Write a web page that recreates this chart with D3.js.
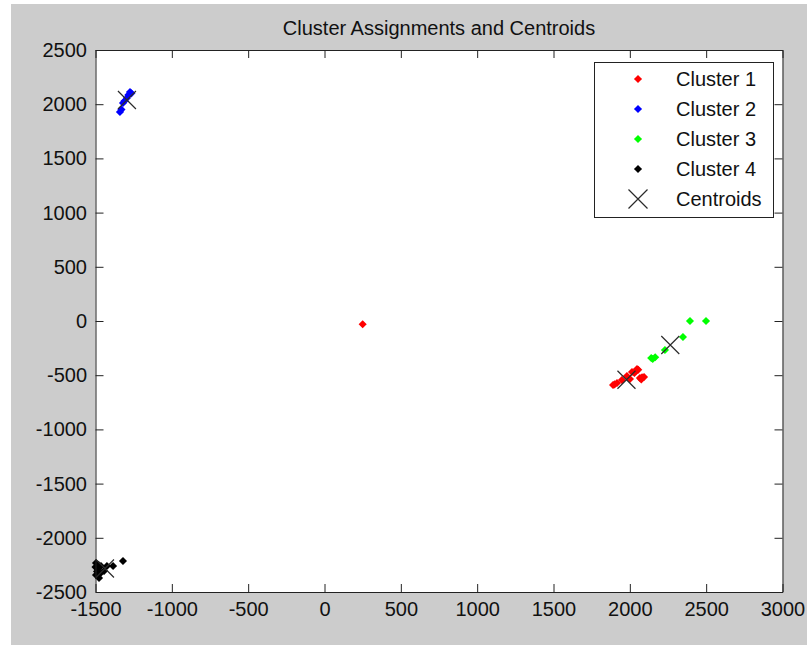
<!DOCTYPE html>
<html lang="en">

<head>
  <meta charset="UTF-8">
  <title>Cluster Assignments and Centroids</title>
  <script src="https://d3js.org/d3.v7.min.js"></script>
  <style>
    body {
      margin: 0;
      background: #fff;
    }

    text {
      font-family: 'Liberation Sans', Arial, sans-serif;
      fill: #111;
    }
  </style>
</head>

<body>
  <script>
    // data: [x, y] points for each cluster
    var cluster1 = [[250, -30], [1890, -590], [1900, -585], [1916, -572], [1948, -544], [1981, -507],
      [2001, -535], [2014, -470], [2030, -480], [2040, -460], [2047, -443], [2055, -450],
      [2066, -526], [2075, -540], [2080, -520], [2093, -517]];
    var cluster2 = [[-1340, 1928], [-1330, 1950], [-1320, 2011], [-1310, 2030], [-1294, 2057],
      [-1285, 2085], [-1274, 2113], [-1265, 2100]];
    var cluster3 = [[2394, 0], [2499, 0], [2348, -148], [2230, -267], [2140, -341], [2150, -350], [2166, -335]];
    var cluster4 = [[-1497, -2232], [-1480, -2250], [-1484, -2288], [-1500, -2270], [-1464, -2260],
      [-1497, -2343], [-1470, -2330], [-1477, -2371], [-1444, -2306], [-1425, -2260],
      [-1385, -2260], [-1320, -2214], [-1490, -2310]];
    var centroids = [[1978, -542], [-1294, 2039], [2265, -221], [-1438, -2283]];

    var clusterNames = ['Cluster 1', 'Cluster 2', 'Cluster 3', 'Cluster 4'];
    var clusterColors = ['#ff0000', '#0000ff', '#00ff00', '#000000'];
    var xTicks = [-1500, -1000, -500, 0, 500, 1000, 1500, 2000, 2500, 3000];
    var yTicks = [-2500, -2000, -1500, -1000, -500, 0, 500, 1000, 1500, 2000, 2500];

    var width = 807;
    var height = 645;
    var plot = { left: 95.5, right: 782.5, top: 50, bottom: 592 };
    var tickLen = 8;

    var svg = d3.select('body')
      .append('svg')
      .attr('width', width)
      .attr('height', height);

    // figure background
    svg.append('rect')
      .attr('x', 11)
      .attr('y', 4)
      .attr('width', width - 11)
      .attr('height', height - 4)
      .attr('fill', '#cccccc');

    var x = d3.scaleLinear().domain([-1500, 3000]).range([plot.left, plot.right]);
    var y = d3.scaleLinear().domain([-2500, 2500]).range([plot.bottom, plot.top]);

    svg.append('rect')
      .attr('x', plot.left)
      .attr('y', plot.top)
      .attr('width', plot.right - plot.left)
      .attr('height', plot.bottom - plot.top)
      .attr('fill', '#fff');

    // points
    var diamond = d3.symbol().type(d3.symbolDiamond2).size(42);
    var clusters = [cluster1, cluster2, cluster3, cluster4];
    clusters.forEach(function (pts, i) {
      svg.append('g')
        .selectAll('path')
        .data(pts)
        .enter()
        .append('path')
        .attr('d', diamond)
        .attr('transform', function (d) {
          return 'translate(' + x(d[0]) + ',' + y(d[1]) + ')';
        })
        .attr('fill', clusterColors[i]);
    });

    // centroid crosses
    function cross(g, r) {
      g.append('path')
        .attr('d', 'M' + (-r) + ',' + (-r) + 'L' + r + ',' + r + 'M' + (-r) + ',' + r + 'L' + r + ',' + (-r))
        .attr('stroke', '#2a2a2a')
        .attr('stroke-width', 1.2)
        .attr('fill', 'none');
    }
    svg.append('g')
      .selectAll('g')
      .data(centroids)
      .enter()
      .append('g')
      .attr('transform', function (d) {
        return 'translate(' + x(d[0]) + ',' + y(d[1]) + ')';
      })
      .each(function () { cross(d3.select(this), 9); });

    // axes, ticks pointing inward
    function styleAxis(g) {
      g.selectAll('path').attr('stroke', '#222');
      g.selectAll('line').attr('stroke', '#222');
      g.selectAll('text').attr('font-size', '20px').attr('fill', '#111');
      g.attr('font-family', null);
    }

    svg.append('g')
      .attr('transform', 'translate(0,' + plot.bottom + ')')
      .call(d3.axisBottom(x).tickValues(xTicks).tickSize(-tickLen).tickSizeOuter(0).tickPadding(10)
        .tickFormat(d3.format('d')))
      .call(styleAxis);

    svg.append('g')
      .attr('transform', 'translate(0,' + plot.top + ')')
      .call(d3.axisTop(x).tickValues(xTicks).tickSize(-tickLen).tickSizeOuter(0).tickFormat(''))
      .call(styleAxis);

    svg.append('g')
      .attr('transform', 'translate(' + plot.left + ',0)')
      .call(d3.axisLeft(y).tickValues(yTicks).tickSize(-tickLen).tickSizeOuter(0).tickPadding(8.5)
        .tickFormat(d3.format('d')))
      .call(styleAxis);

    svg.append('g')
      .attr('transform', 'translate(' + plot.right + ',0)')
      .call(d3.axisRight(y).tickValues(yTicks).tickSize(-tickLen).tickSizeOuter(0).tickFormat(''))
      .call(styleAxis);

    // plain hyphen for negatives, as in the original
    svg.selectAll('.tick text').text(function () {
      return d3.select(this).text().replace('\u2212', '-');
    });

    // title
    svg.append('text')
      .attr('x', (plot.left + plot.right) / 2)
      .attr('y', 35)
      .attr('text-anchor', 'middle')
      .attr('font-size', '20px')
      .text('Cluster Assignments and Centroids');

    // legend
    var legendItems = clusterNames.map(function (n, i) {
      return { name: n, color: clusterColors[i], kind: 'point' };
    });
    legendItems.push({ name: 'Centroids', kind: 'cross' });

    var legend = svg.append('g');
    legend.append('rect')
      .attr('x', 594.5)
      .attr('y', 62.5)
      .attr('width', 179)
      .attr('height', 155)
      .attr('fill', '#fff')
      .attr('stroke', '#222');

    var rows = legend.selectAll('g.row')
      .data(legendItems)
      .enter()
      .append('g')
      .attr('class', 'row')
      .attr('transform', function (d, i) {
        return 'translate(0,' + (79 + i * 30) + ')';
      });

    rows.each(function (d) {
      var g = d3.select(this);
      if (d.kind === 'point') {
        g.append('path')
          .attr('d', diamond)
          .attr('transform', 'translate(638,0)')
          .attr('fill', d.color);
      } else {
        cross(g.append('g').attr('transform', 'translate(638,0)'), 9.5);
      }
      g.append('text')
        .attr('x', 676)
        .attr('dy', '0.35em')
        .attr('font-size', '20px')
        .text(d.name);
    });
  </script>
</body>

</html>
